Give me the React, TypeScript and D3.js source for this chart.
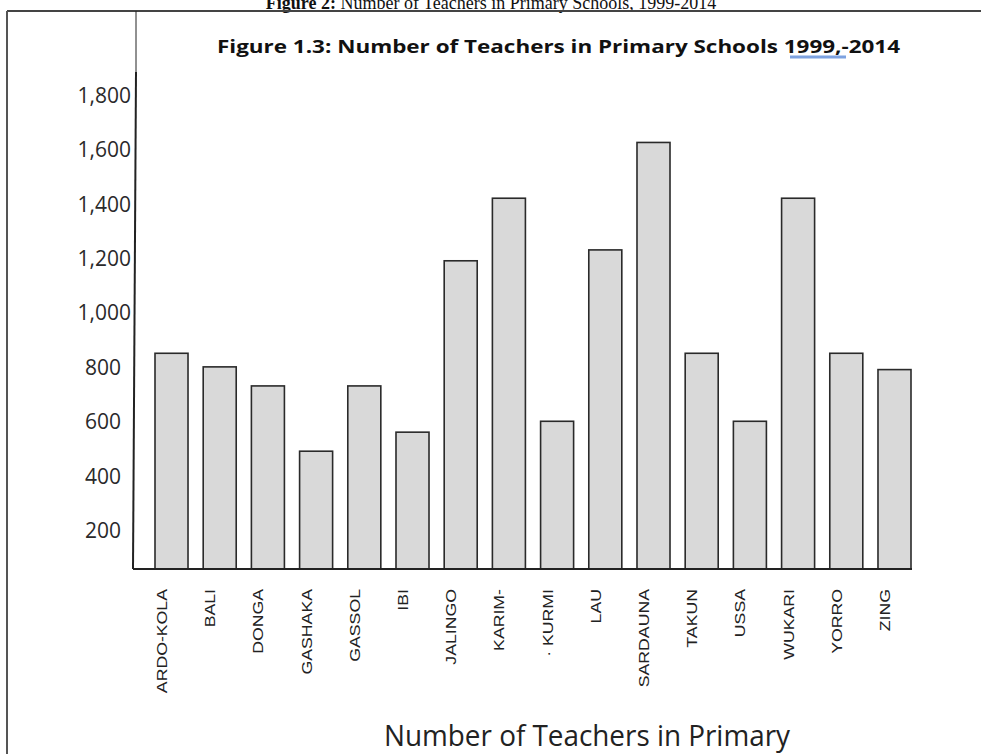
import React from "react";
import * as d3 from "d3";

const categories = [
  "ARDO-KOLA", "BALI", "DONGA", "GASHAKA", "GASSOL", "IBI", "JALINGO", "KARIM-",
  "· KURMI", "LAU", "SARDAUNA", "TAKUN", "USSA", "WUKARI", "YORRO", "ZING",
];
const teachers = [850, 800, 730, 490, 730, 560, 1190, 1420, 600, 1230, 1625, 850, 600, 1420, 850, 790];
const yTicks = [200, 400, 600, 800, 1000, 1200, 1400, 1600, 1800];

const captionBold = "Figure 2:";
const captionRest = " Number of Teachers in Primary Schools, 1999-2014";
const chartTitle = "Figure 1.3: Number of Teachers in Primary Schools 1999,-2014";
const bottomTitle = "Number of Teachers in Primary";

export default function App() {
  const W = 981;
  const H = 754;
  const x = d3.scaleBand<string>().domain(categories).range([155, 911]).paddingInner(0.315).paddingOuter(0);
  const y = d3.scaleLinear().domain([57, 1884]).range([569, 72]);
  const fmt = d3.format(",");
  const bw = x.bandwidth();
  const base = y(57);

  return (
    <svg width={W} height={H} style={{ position: "absolute", left: 0, top: 0, background: "#fff" }}>
      {/* page caption */}
      <text x={491} y={9} textAnchor="middle" fontFamily="'Liberation Serif', serif" fontSize={18} fill="#111">
        <tspan fontWeight="bold">{captionBold}</tspan>
        <tspan>{captionRest}</tspan>
      </text>
      {/* frame */}
      <line x1={7} y1={11} x2={W} y2={11} stroke="#444" strokeWidth={2} />
      <line x1={7} y1={11} x2={7} y2={H} stroke="#555" strokeWidth={2} />
      {/* thin vertical top segment */}
      <line x1={136} y1={11} x2={136} y2={72} stroke="#222" strokeWidth={1} />
      {/* chart title */}
      <text x={217} y={53} fontFamily="'Open Sans', sans-serif" fontWeight="bold" fontSize={18} fill="#111"
        textLength={683} lengthAdjust="spacingAndGlyphs">{chartTitle}</text>
      <line x1={790} y1={57} x2={846} y2={57} stroke="#7da2e0" strokeWidth={3} />
      {/* y axis */}
      <line x1={136} y1={72} x2={133} y2={base} stroke="#222" strokeWidth={2} />
      {yTicks.map((t) => (
        <text key={t} x={t >= 1000 ? 131 : 121} y={y(t)} textAnchor="end" dominantBaseline="central"
          fontFamily="'Open Sans', sans-serif" fontSize={21} fill="#2a2a2a">{fmt(t)}</text>
      ))}
      {/* bars */}
      {categories.map((c, i) => (
        <rect key={c} x={x(c)!} y={y(teachers[i])} width={bw} height={base - y(teachers[i])}
          fill="#d9d9d9" stroke="#2a2a2a" strokeWidth={1.6} />
      ))}
      {/* x axis */}
      <line x1={133} y1={base} x2={912} y2={base} stroke="#222" strokeWidth={2} />
      {categories.map((c) => (
        <text key={c} transform={`translate(${x(c)! + bw / 2 - 10},589) rotate(-90) scale(1.18,1)`}
          textAnchor="end" dominantBaseline="central" fontFamily="'Liberation Sans', Arial, sans-serif"
          fontSize={15} fill="#222">{c}</text>
      ))}
      {/* bottom title */}
      <text x={384} y={746} fontFamily="'Open Sans', sans-serif" fontSize={30} fill="#222"
        textLength={406} lengthAdjust="spacingAndGlyphs">{bottomTitle}</text>
    </svg>
  );
}
